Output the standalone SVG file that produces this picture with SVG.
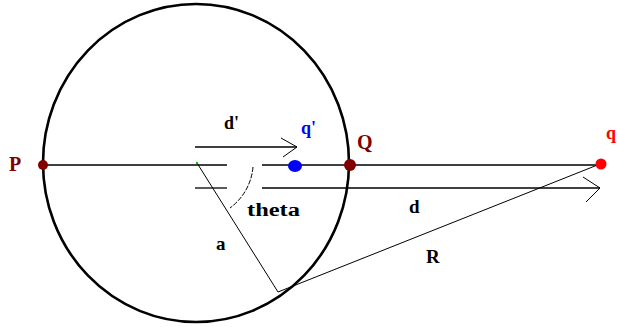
<svg xmlns="http://www.w3.org/2000/svg" width="618" height="327" viewBox="0 0 618 327">
<style>
.ln{stroke:#000;fill:none;stroke-width:1.3}
.th{stroke:#000;fill:none;stroke-width:1}
.lbl{font-family:"Liberation Serif","DejaVu Serif",serif;font-weight:bold}
</style>
<rect width="618" height="327" fill="#fff"/>
<g id="sphere">
<ellipse cx="196" cy="163" rx="153" ry="159" fill="none" stroke="#000" stroke-width="2.6"/>
</g>
<g id="connectors">
<line class="ln" x1="43" y1="165" x2="227" y2="165"/>
<line class="ln" x1="262" y1="165" x2="600" y2="165"/>
<line class="ln" x1="195" y1="188" x2="227" y2="188"/>
<line class="ln" x1="262" y1="188" x2="600" y2="188"/>
<polyline class="th" points="583,177 600,188 586,202"/>
<line class="ln" x1="195" y1="147" x2="297" y2="147"/>
<polyline class="th" points="281,138 297,147 283,157"/>
<path class="th" d="M253,167 A57,57 0 0 1 230,208" stroke-dasharray="5,1.5"/>
<line class="th" x1="197" y1="163" x2="278" y2="292"/>
<line class="th" x1="278" y1="292" x2="600" y2="164"/>
<circle cx="197" cy="163" r="1.2" fill="#00c000"/>
</g>
<g id="P"><circle cx="43" cy="165" r="5" fill="#800000"/><text class="lbl" x="9" y="171" font-size="20" fill="#800000">P</text></g>
<g id="Q"><circle cx="350" cy="165" r="6" fill="#800000"/><text class="lbl" x="357" y="149" font-size="20" fill="#800000">Q</text></g>
<g id="qprime"><ellipse cx="295" cy="166" rx="7" ry="6" fill="#0000ff"/><text class="lbl" x="301" y="134" font-size="18" fill="#0000ff">q'</text></g>
<g id="q"><circle cx="601" cy="164" r="5.5" fill="#ff0000"/><text class="lbl" x="606" y="139" font-size="18" fill="#ff0000">q</text></g>
<text class="lbl" x="224" y="129" font-size="18">d'</text>
<text class="lbl" x="247" y="216" font-size="18" textLength="53" lengthAdjust="spacingAndGlyphs">theta</text>
<text class="lbl" x="409" y="213" font-size="19">d</text>
<text class="lbl" x="426" y="263" font-size="19">R</text>
<text class="lbl" x="216" y="250" font-size="19">a</text>
</svg>
